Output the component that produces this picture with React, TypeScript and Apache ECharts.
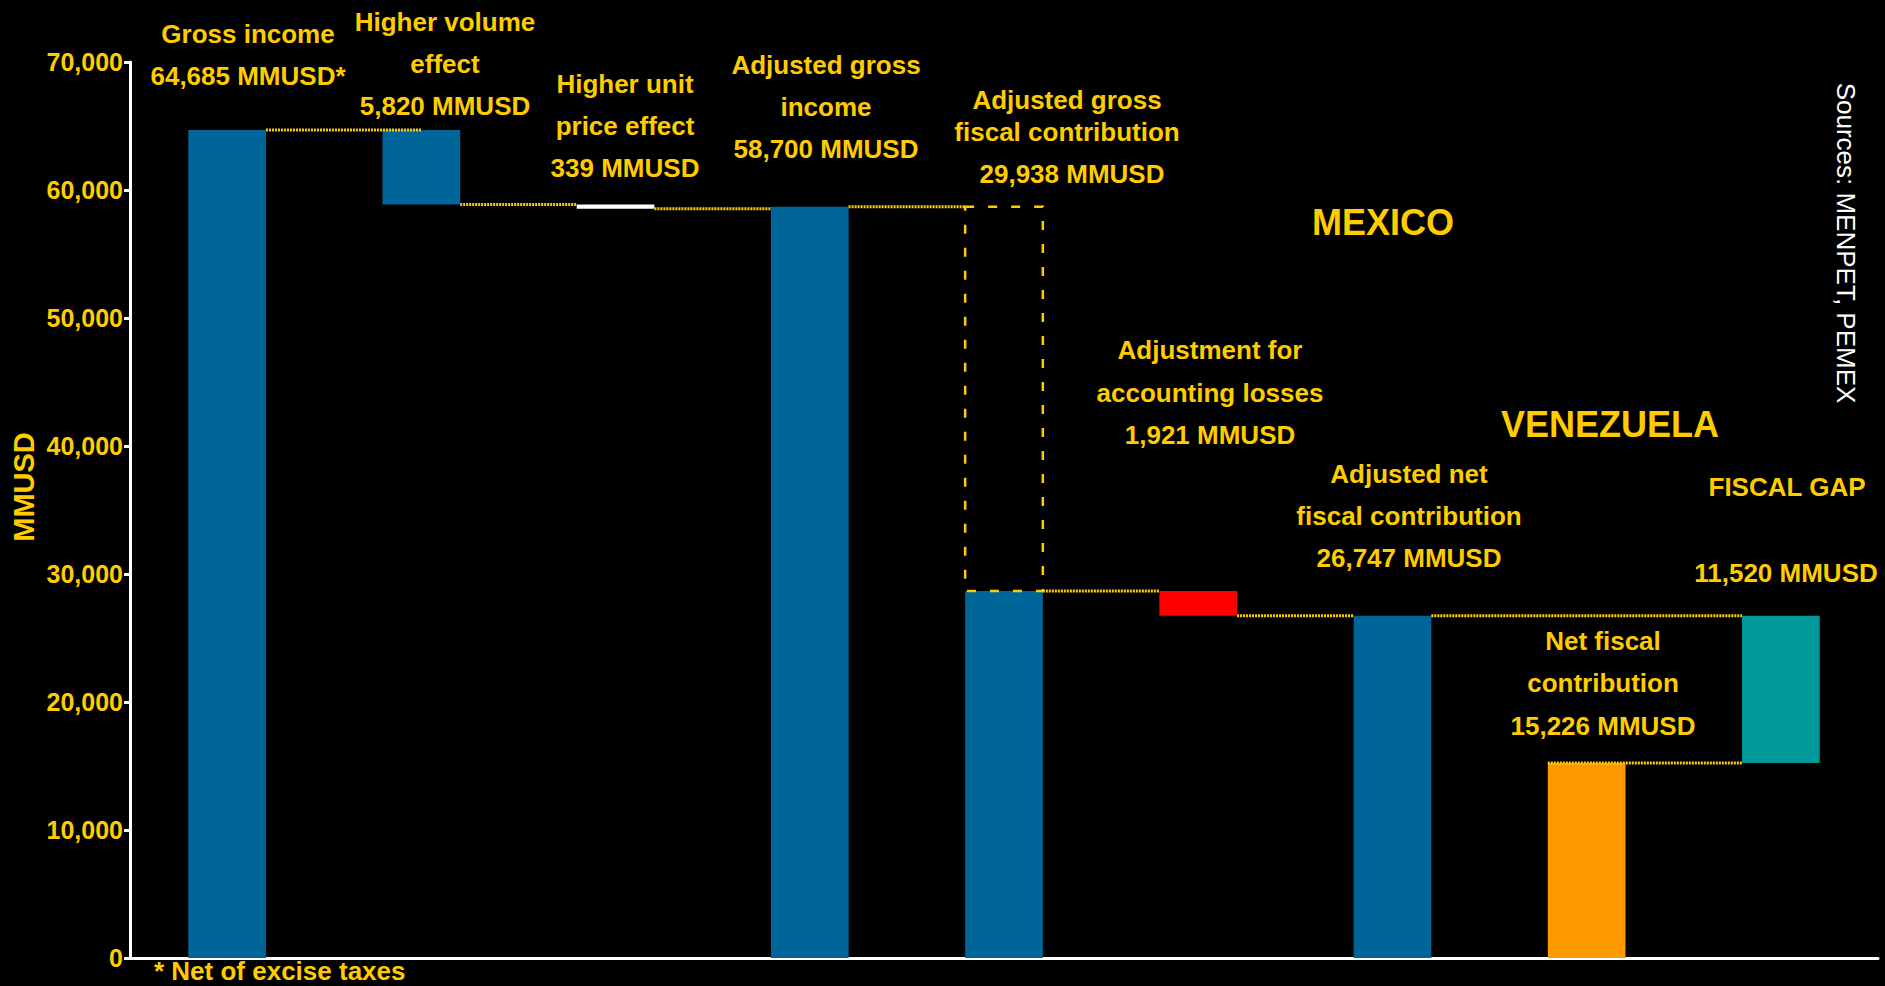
import React, { useEffect, useRef } from "react";
import * as echarts from "echarts";

const categories = [
  "Gross income",
  "Higher volume effect",
  "Higher unit price effect",
  "Adjusted gross income",
  "Adjusted gross fiscal contribution",
  "Adjustment for accounting losses",
  "Adjusted net fiscal contribution",
  "Net fiscal contribution",
  "Fiscal gap",
];
const barLow = [0, 58865, 58526, 0, 0, 26747, 0, 0, 15226];
const barHigh = [64685, 64685, 58865, 58700, 28668, 28668, 26747, 15226, 26747];
const barColors = ["#00669A", "#00669A", "#FFFFFF", "#00669A", "#00669A", "#FF0000", "#00669A", "#FF9900", "#009999"];
// dashed outline: [categoryIndex, low, high]
const dashedBox = [[4, 28668, 58700]];
// connectors: [fromIndex, toIndex, value, fromEdge, toEdge]
const connectors: [number, number, number, string, string][] = [
  [0, 1, 64685, "right", "center"],
  [1, 2, 58865, "right", "left"],
  [2, 3, 58526, "right", "left"],
  [3, 4, 58700, "right", "left"],
  [4, 5, 28668, "right", "left"],
  [5, 6, 26747, "right", "left"],
  [6, 8, 26747, "right", "left"],
  [7, 8, 15226, "left", "left"],
];
const yTicks = [0, 10000, 20000, 30000, 40000, 50000, 60000, 70000];

const YELLOW = "#FFCC00";
const FONT = "'Liberation Sans', Arial, Helvetica, sans-serif";

export default function App() {
  const ref = useRef<HTMLDivElement>(null);
  useEffect(() => {
    if (!ref.current) return;
    const chart = echarts.init(ref.current, null, { renderer: "svg" });
    const BAR_FRAC = 0.4;

    const edgeX = (api: any, idx: number, edge: string, val: number) => {
      const p = api.coord([idx, val]);
      const w = api.size([1, 0])[0] * BAR_FRAC;
      if (edge === "left") return p[0] - w / 2;
      if (edge === "right") return p[0] + w / 2;
      return p[0];
    };

    const lbl = (text: string, x: number, y: number, size = 26, color = YELLOW, weight = "bold", rotation = 0) => ({
      type: "text",
      x,
      y,
      rotation,
      silent: true,
      style: {
        text,
        fill: color,
        font: `${weight} ${size}px ${FONT}`,
        textAlign: "center",
        textVerticalAlign: "middle",
      },
    });

    const option: any = {
      animation: false,
      backgroundColor: "#000000",
      grid: { left: 130, right: 7, top: 62, bottom: 28, containLabel: false },
      xAxis: {
        type: "category",
        data: categories,
        axisLine: { show: true, lineStyle: { color: "#FFFFFF", width: 3 } },
        axisTick: { show: false },
        axisLabel: { show: false },
        splitLine: { show: false },
      },
      yAxis: {
        type: "value",
        min: yTicks[0],
        max: yTicks[yTicks.length - 1],
        interval: 10000,
        axisLine: { show: true, lineStyle: { color: "#FFFFFF", width: 3 } },
        axisTick: { show: true, length: 6, lineStyle: { color: "#FFFFFF", width: 3 } },
        splitLine: { show: false },
        axisLabel: {
          color: YELLOW,
          fontWeight: "bold",
          fontSize: 25,
          fontFamily: FONT,
          margin: 7,
          formatter: (v: number) => v.toLocaleString("en-US"),
        },
      },
      series: [
        {
          type: "custom",
          name: "bars",
          coordinateSystem: "cartesian2d",
          data: categories.map((_, i) => [i, barLow[i], barHigh[i]]),
          encode: { x: 0, y: [1, 2] },
          renderItem: (params: any, api: any) => {
            const i = api.value(0);
            const lo = api.coord([i, api.value(1)]);
            const hi = api.coord([i, api.value(2)]);
            const w = api.size([1, 0])[0] * BAR_FRAC;
            return {
              type: "rect",
              shape: { x: lo[0] - w / 2, y: hi[1], width: w, height: Math.max(lo[1] - hi[1], 1) },
              style: { fill: barColors[params.dataIndex] },
            };
          },
          z: 2,
        },
        {
          type: "custom",
          name: "connectors",
          coordinateSystem: "cartesian2d",
          data: connectors.map((c) => [c[0], c[1], c[2]]),
          encode: { x: 0, y: 2 },
          renderItem: (params: any, api: any) => {
            const c = connectors[params.dataIndex];
            const y = api.coord([c[0], c[2]])[1];
            const x1 = edgeX(api, c[0], c[3], c[2]);
            const x2 = edgeX(api, c[1], c[4], c[2]);
            return {
              type: "line",
              shape: { x1, y1: y, x2, y2: y },
              style: { stroke: YELLOW, lineWidth: 3, lineDash: [2, 1] },
            };
          },
          z: 3,
        },
        {
          type: "custom",
          name: "dashed",
          coordinateSystem: "cartesian2d",
          data: dashedBox,
          encode: { x: 0, y: [1, 2] },
          renderItem: (params: any, api: any) => {
            const i = api.value(0);
            const lo = api.coord([i, api.value(1)]);
            const hi = api.coord([i, api.value(2)]);
            const w = api.size([1, 0])[0] * BAR_FRAC;
            return {
              type: "rect",
              shape: { x: lo[0] - w / 2, y: hi[1], width: w, height: lo[1] - hi[1] },
              style: { fill: "none", stroke: YELLOW, lineWidth: 2.5, lineDash: [9, 14] },
            };
          },
          z: 4,
        },
      ],
      graphic: [
        lbl("Gross income", 248, 34),
        lbl("64,685 MMUSD*", 248, 76),
        lbl("Higher volume", 445, 22),
        lbl("effect", 445, 64),
        lbl("5,820 MMUSD", 445, 106),
        lbl("Higher unit", 625, 84),
        lbl("price effect", 625, 126),
        lbl("339 MMUSD", 625, 168),
        lbl("Adjusted gross", 826, 65),
        lbl("income", 826, 107),
        lbl("58,700 MMUSD", 826, 149),
        lbl("Adjusted gross", 1067, 100),
        lbl("fiscal contribution", 1067, 132),
        lbl("29,938 MMUSD", 1072, 174),
        lbl("MEXICO", 1383, 222, 36),
        lbl("Adjustment for", 1210, 350),
        lbl("accounting losses", 1210, 393),
        lbl("1,921 MMUSD", 1210, 435),
        lbl("VENEZUELA", 1610, 424, 36),
        lbl("Adjusted net", 1409, 474),
        lbl("fiscal contribution", 1409, 516),
        lbl("26,747 MMUSD", 1409, 558),
        lbl("FISCAL GAP", 1787, 487),
        lbl("11,520 MMUSD", 1786, 573),
        lbl("Net fiscal", 1603, 641),
        lbl("contribution", 1603, 683),
        lbl("15,226 MMUSD", 1603, 726),
        lbl("MMUSD", 24, 487, 29, YELLOW, "bold", Math.PI / 2),
        lbl("Sources: MENPET, PEMEX", 1846, 243, 26, "#FFFFFF", "normal", -Math.PI / 2),
        {
          type: "text",
          x: 154,
          y: 971,
          silent: true,
          style: {
            text: "* Net of excise taxes",
            fill: YELLOW,
            font: `bold 26px ${FONT}`,
            textAlign: "left",
            textVerticalAlign: "middle",
          },
        },
      ],
    };
    chart.setOption(option);
    return () => chart.dispose();
  }, []);

  return (
    <div
      ref={ref}
      style={{ position: "fixed", left: 0, top: 0, width: 1885, height: 986, background: "#000" }}
    />
  );
}
